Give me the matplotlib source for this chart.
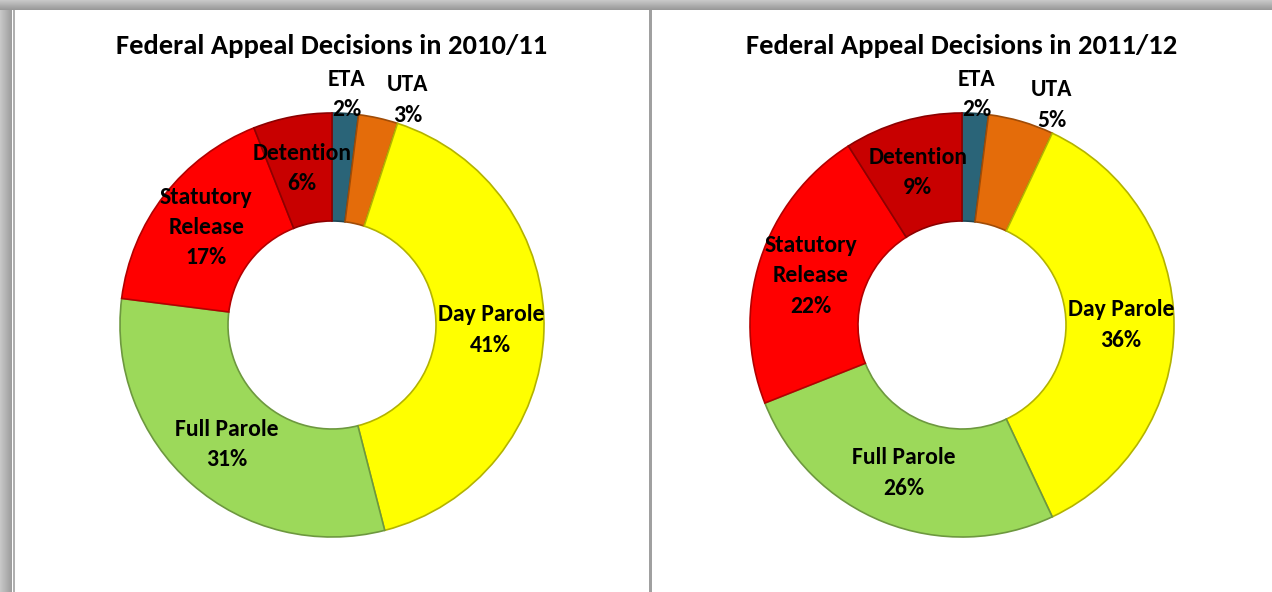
import matplotlib.pyplot as plt
from matplotlib.patches import Rectangle
import matplotlib.colors as mcolors
import numpy as np

categories = ["ETA", "UTA", "Day Parole", "Full Parole", "Statutory\nRelease", "Detention"]
values_2010 = [2, 3, 41, 31, 17, 6]
values_2011 = [2, 5, 36, 26, 22, 9]
titles = ["Federal Appeal Decisions in 2010/11", "Federal Appeal Decisions in 2011/12"]
colors = ["#2A6478", "#E46C0A", "#FFFF00", "#9CD95A", "#FF0000", "#C80000"]

plt.rcParams["font.family"] = ["Carlito", "Liberation Sans", "DejaVu Sans"]

W, H = 1272, 592
fig = plt.figure(figsize=(W / 100, H / 100), dpi=100)
ax = fig.add_axes([0, 0, 1, 1])

# frame decoration (gray shadow bands + divider)
for i in range(10):
    g = 0.78 - 0.02 * i
    ax.add_patch(Rectangle((0, H - i - 1), W, 1, color=(g, g, g), lw=0))
for i in range(12):
    g = 0.78 - 0.015 * i
    ax.add_patch(Rectangle((i, 0), 1, H - 10, color=(g, g, g), lw=0))
ax.add_patch(Rectangle((13, 0), 1.5, H - 10, color="#b0b0b0", lw=0))
ax.add_patch(Rectangle((649, 0), 2.5, H - 10, color="#a0a0a0", lw=0))

R = 212
ring = 108
centers = [(332, 267), (962, 267)]
# outside labels for the small slices: (radius factor, angle nudge in degrees)
outside = {"ETA": (1.09, 0), "UTA": (1.12, -6)}

for vals, title, (cx, cy) in zip([values_2010, values_2011], titles, centers):
    wedges, _ = ax.pie(vals, colors=colors, startangle=90, counterclock=False,
                       center=(cx, cy), radius=R,
                       wedgeprops=dict(width=ring, linewidth=1.2))
    for w, c in zip(wedges, colors):
        rgb = np.array(mcolors.to_rgb(c)) * 0.7
        w.set_edgecolor(rgb)
    for w, lab, v in zip(wedges, categories, vals):
        ang = (w.theta1 + w.theta2) / 2
        r = R * 0.75
        if lab in outside:
            r = R * outside[lab][0]
            ang += outside[lab][1]
        ang = np.deg2rad(ang)
        ax.text(cx + r * np.cos(ang), cy + r * np.sin(ang), f"{lab}\n{v}%",
                ha="center", va="center", fontsize=17, fontweight="bold",
                linespacing=1.55, color="black")
    ax.text(cx, 546, title, ha="center", va="center", fontsize=20.5, fontweight="bold")

ax.set_xlim(0, W)
ax.set_ylim(0, H)
ax.set_aspect("auto")
ax.axis("off")

fig.savefig("out.png", dpi=100)
plt.close()
